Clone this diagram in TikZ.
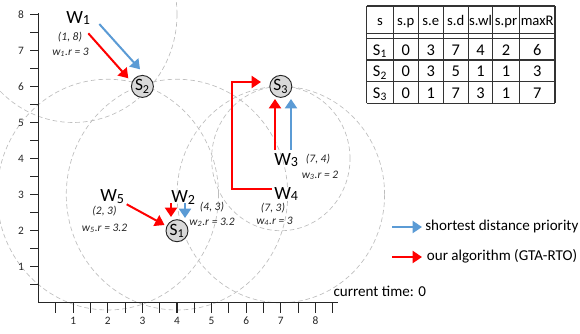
\documentclass[tikz,border=0pt]{standalone}
\usepackage{fontspec}
\setmainfont{Carlito}
\usetikzlibrary{arrows.meta}
\definecolor{myblue}{HTML}{5B9BD5}
\definecolor{rnggray}{HTML}{BDBDBD}
\definecolor{srvgray}{HTML}{D9D9D9}
\newcommand\wsub[1]{\raisebox{-1.4pt}{\fontsize{10.5}{12}\selectfont #1}}
\begin{document}
\begin{tikzpicture}[x=0.75pt,y=-0.75pt,
  rng/.style={draw=rnggray, dash pattern=on 3.5pt off 2.2pt, line width=0.5pt},
  axisln/.style={draw=black!85, line width=0.9pt},
  tickln/.style={draw=black!85, line width=0.8pt},
  ticklab/.style={font=\fontsize{8.5}{10}\selectfont, inner sep=0pt, text=black!85},
  srv/.style={circle, draw=black!85, fill=srvgray, line width=0.7pt, minimum size=16.5pt, inner sep=0pt, font=\fontsize{13}{14}\selectfont},
  wlab/.style={font=\fontsize{14}{15}\selectfont, inner sep=0pt, anchor=base west},
  info/.style={font=\itshape\fontsize{8.6}{10}\selectfont, inner sep=0pt, text=black!85},
  redarr/.style={draw=red, line width=1.5pt, -{Triangle[length=7pt,width=9pt]}},
  bluearr/.style={draw=myblue, line width=1.5pt, -{Triangle[length=7pt,width=9pt]}},
  legtext/.style={font=\fontsize{11.3}{13}\selectfont, inner sep=0pt, anchor=base west},
  tabln/.style={draw=black!80, line width=0.8pt},
  thead/.style={font=\fontsize{11}{13}\selectfont, inner sep=0pt, anchor=base},
  tbody/.style={font=\fontsize{12.3}{14}\selectfont, inner sep=0pt, anchor=base}
]
\useasboundingbox (0,0) rectangle (580,333);
\clip (0,0) rectangle (580,333);

% worker positions (data coordinates)
\coordinate (p1) at (73.2,14.3);
\coordinate (p2) at (177.0,194.6);
\coordinate (p3) at (280.8,158.6);
\coordinate (p4) at (280.8,194.6);
\coordinate (p5) at (107.8,194.6);

% range circles
\draw[rng] (p1) ellipse [x radius=77.85pt, y radius=81.14pt];
\draw[rng] (p2) ellipse [x radius=83.04pt, y radius=86.54pt];
\draw[rng] (p3) ellipse [x radius=51.9pt, y radius=54.09pt];
\draw[rng] (p4) ellipse [x radius=77.85pt, y radius=81.14pt];
\draw[rng] (p5) ellipse [x radius=83.04pt, y radius=86.54pt];

% axes
\coordinate (O) at (38.6,302.8);
\coordinate (xend) at (338,302.8);
\coordinate (yend) at (38.6,13);
\draw[axisln] (yend) -- (O) -- (xend);
\foreach \i in {1,...,17} \draw[tickln] ({38.6+\i*17.3},302.8) -- ++(0,10);
\foreach \i in {1,...,16} \draw[tickln] (38.6,{302.8-\i*18.03}) -- ++(-9,0);
\foreach \i in {1,...,8} {
  \node[ticklab] (xl\i) at ({38.6+\i*34.6},320.5) {\i};
  \node[ticklab] (yl\i) at (21,{302.8-\i*36.06}) {\i};
}

% servers
\node[srv] (s1) at (177,230.7) {S\textsubscript{1}};
\node[srv] (s2) at (142.4,86.4) {S\textsubscript{2}};
\node[srv] (s3) at (280.8,86.4) {S\textsubscript{3}};

% workers
\node[wlab] (w1) at (66,23) {W\wsub{1}};
\node[info] (w1a) at (70,37.5) {(1, 8)};
\node[info] (w1b) at (70.5,52.5) {w\textsubscript{1}.r = 3};

\node[wlab] (w2) at (171,202.5) {W\wsub{2}};
\node[info] (w2a) at (212,207) {(4, 3)};
\node[info] (w2b) at (212,222) {w\textsubscript{2}.r = 3.2};

\node[wlab] (w3) at (274,165) {W\wsub{3}};
\node[info] (w3a) at (318,159.5) {(7, 4)};
\node[info] (w3b) at (320,175) {w\textsubscript{3}.r = 2};

\node[wlab] (w4) at (274,199) {W\wsub{4}};
\node[info] (w4a) at (273,208.5) {(7, 3)};
\node[info] (w4b) at (274.5,221.5) {w\textsubscript{4}.r = 3};

\node[wlab] (w5) at (100,201.5) {W\wsub{5}};
\node[info] (w5a) at (104.5,211.5) {(2, 3)};
\node[info] (w5b) at (104.5,228) {w\textsubscript{5}.r = 3.2};

% assignment arrows
\coordinate (a1bs) at (99.3,24);   \coordinate (a1be) at (140,69.3);
\coordinate (a1rs) at (88.3,33.3); \coordinate (a1re) at (128.3,78.3);
\draw[bluearr] (a1bs) -- (a1be);
\draw[redarr] (a1rs) -- (a1re);

\coordinate (a2rs) at (171,203); \coordinate (a2re) at (171,217);
\coordinate (a2bs) at (185,203); \coordinate (a2be) at (185,218);
\draw[redarr] (a2rs) -- (a2re);
\draw[bluearr] (a2bs) -- (a2be);

\coordinate (a5rs) at (126.7,204.3); \coordinate (a5re) at (164.5,225);
\draw[redarr] (a5rs) -- (a5re);

\coordinate (a3rs) at (275,150); \coordinate (a3re) at (275,99);
\coordinate (a3bs) at (291,150); \coordinate (a3be) at (291,99);
\draw[redarr] (a3rs) -- (a3re);
\draw[bluearr] (a3bs) -- (a3be);

\coordinate (a4s) at (272,189); \coordinate (a4c1) at (232,189);
\coordinate (a4c2) at (232,82); \coordinate (a4e) at (261,82);
\draw[redarr, line join=miter] (a4s) -- (a4c1) -- (a4c2) -- (a4e);

% legend
\coordinate (lbs) at (392,227); \coordinate (lbe) at (422,227);
\coordinate (lrs) at (392,257); \coordinate (lre) at (422,257);
\draw[bluearr] (lbs) -- (lbe);
\draw[redarr] (lrs) -- (lre);
\node[legtext] (legb) at (425,230.7) {shortest distance priority};
\node[legtext] (legr) at (426.7,260) {our algorithm (GTA-RTO)};
\node[legtext] (ctime) at (333.3,296) {current time: 0};

% table
\foreach \yy in {6,33.3,38.3,60,81.7,103.3} \draw[tabln] (366.7,\yy) -- (555,\yy);
\foreach \xx in {366.7,393.3,418.3,443.3,468.3,492.7,519.3,555} \draw[tabln] (\xx,6) -- (\xx,103.3);
\foreach \txt/\xx [count=\c] in {s/380, s.p/405.8, s.e/430.8, s.d/455.8, s.wl/480.5, s.pr/506, maxR/537.2}
  \node[thead] (h\c) at (\xx,25) {\txt};
\foreach \txt/\xx [count=\c] in {S\textsubscript{1}/380, 0/405.8, 3/430.8, 7/455.8, 4/480.5, 2/506, 6/537.2}
  \node[tbody] (ra\c) at (\xx,55) {\txt};
\foreach \txt/\xx [count=\c] in {S\textsubscript{2}/380, 0/405.8, 3/430.8, 5/455.8, 1/480.5, 1/506, 3/537.2}
  \node[tbody] (rb\c) at (\xx,76.7) {\txt};
\foreach \txt/\xx [count=\c] in {S\textsubscript{3}/380, 0/405.8, 1/430.8, 7/455.8, 3/480.5, 1/506, 7/537.2}
  \node[tbody] (rc\c) at (\xx,98.3) {\txt};
\end{tikzpicture}
\end{document}
